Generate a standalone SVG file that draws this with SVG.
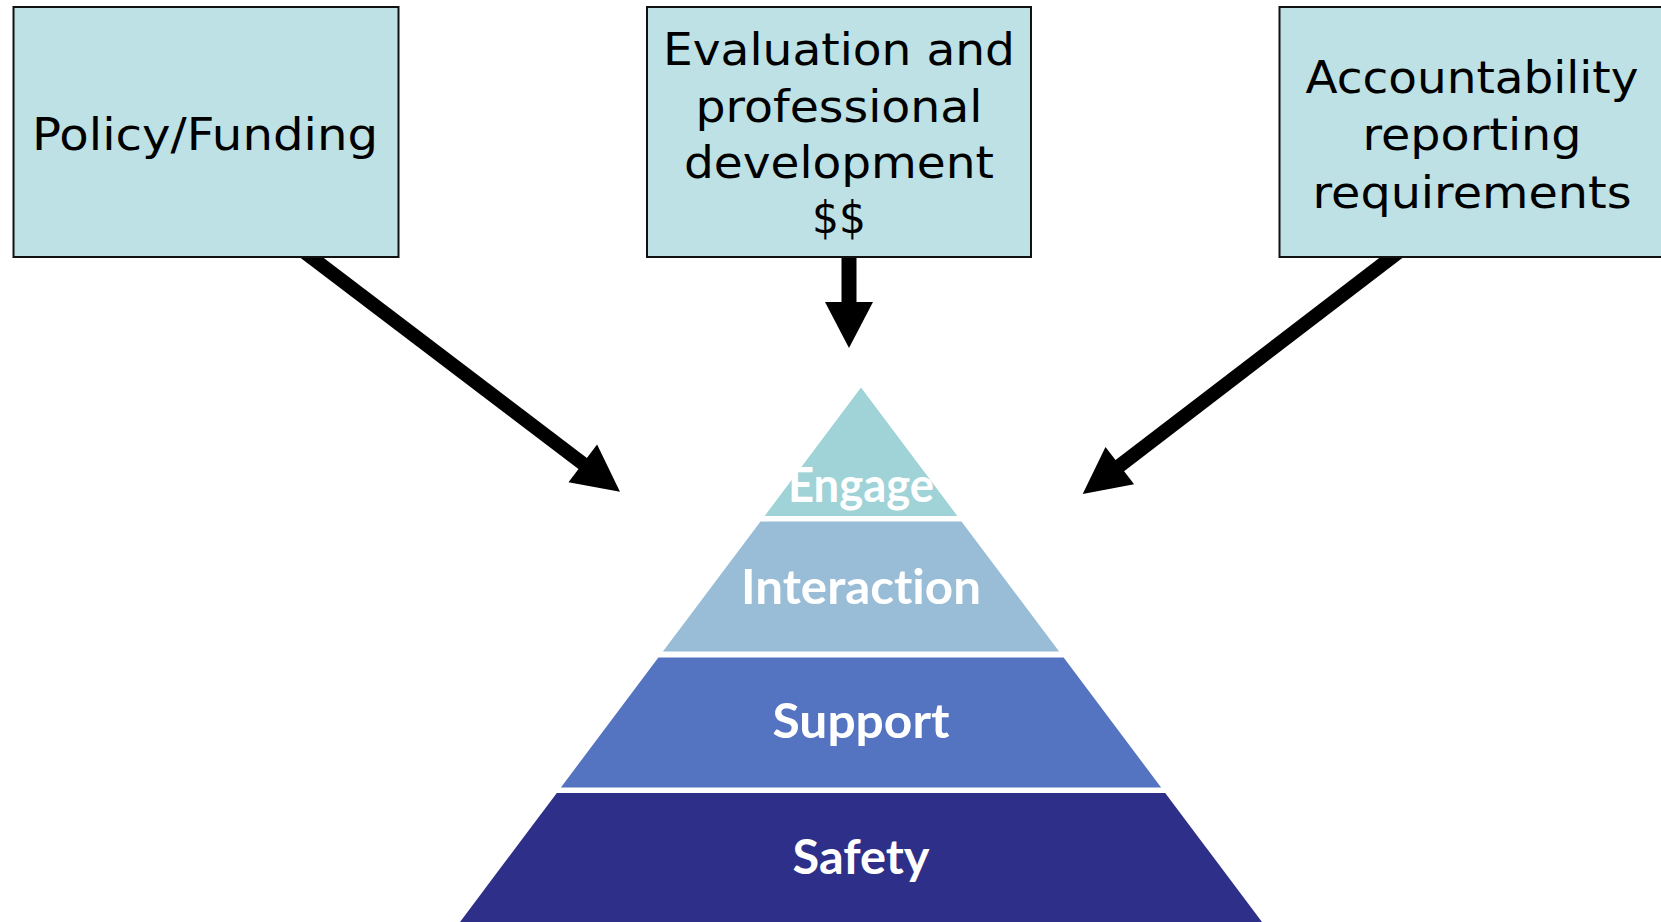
<svg xmlns="http://www.w3.org/2000/svg" width="1661" height="922" viewBox="0 0 1661 922">
<style>
.box{fill:#BDE1E4;stroke:#111;stroke-width:2}
.bt{font-family:"DejaVu Sans","Liberation Sans",sans-serif;font-size:45px;fill:#000;text-anchor:middle}
.pt{font-family:Lato,"Open Sans",sans-serif;font-weight:bold;font-size:47px;fill:#fff;text-anchor:middle;font-variant-ligatures:none}
.shaft{stroke:#000;fill:none}
.head{fill:#000}
</style>
<rect width="1661" height="922" fill="#fff"/>
<g id="connectors">
  <line class="shaft" x1="304.6" y1="252.2" x2="584" y2="464.5" stroke-width="14"/>
  <polygon class="head" points="620,491.7 568.5,482.2 597.1,444.6"/>
  <line class="shaft" x1="849" y1="250" x2="849" y2="303" stroke-width="15"/>
  <polygon class="head" points="825,302 873,302 849,348"/>
  <line class="shaft" x1="1398.4" y1="252.1" x2="1118.5" y2="466.6" stroke-width="14"/>
  <polygon class="head" points="1082.7,494 1105.5,446.9 1134.1,484.3"/>
</g>
<g id="policy">
  <rect class="box" x="13.5" y="7" width="385" height="250"/>
  <text class="bt" x="205" y="150" textLength="346" lengthAdjust="spacingAndGlyphs">Policy/Funding</text>
</g>
<g id="evaluation">
  <rect class="box" x="647" y="7" width="384" height="250"/>
  <text class="bt" x="839" y="65" textLength="352" lengthAdjust="spacingAndGlyphs">Evaluation and</text>
  <text class="bt" x="839" y="121.7" textLength="287" lengthAdjust="spacingAndGlyphs">professional</text>
  <text class="bt" x="839" y="178.3" textLength="310" lengthAdjust="spacingAndGlyphs">development</text>
  <text class="bt" x="839" y="233.3" textLength="54" lengthAdjust="spacingAndGlyphs">$$</text>
</g>
<g id="accountability">
  <rect class="box" x="1279.5" y="7" width="385" height="250"/>
  <text class="bt" x="1472" y="93.3" textLength="333" lengthAdjust="spacingAndGlyphs">Accountability</text>
  <text class="bt" x="1472" y="150" textLength="219" lengthAdjust="spacingAndGlyphs">reporting</text>
  <text class="bt" x="1472" y="208.3" textLength="319" lengthAdjust="spacingAndGlyphs">requirements</text>
</g>
<g id="engage">
  <polygon points="861,387.5 957.4,516 764.6,516" fill="#9FD3D7"/>
  <text class="pt" x="861" y="501.7" textLength="146" lengthAdjust="spacingAndGlyphs">Engage</text>
</g>
<g id="interaction">
  <polygon points="760.5,521.5 961.5,521.5 1059.1,651.5 662.9,651.5" fill="#99BDD7"/>
  <text class="pt" x="861" y="603.8" textLength="240" lengthAdjust="spacingAndGlyphs">Interaction</text>
</g>
<g id="support">
  <polygon points="658.4,657.5 1063.6,657.5 1161.1,787.5 560.9,787.5" fill="#5474C1"/>
  <text class="pt" x="861" y="738.3" textLength="177" lengthAdjust="spacingAndGlyphs">Support</text>
</g>
<g id="safety">
  <polygon points="556.8,793 1165.2,793 1262,922 460,922" fill="#2E2F89"/>
  <text class="pt" x="861" y="874" textLength="137" lengthAdjust="spacingAndGlyphs">Safety</text>
</g>
</svg>
